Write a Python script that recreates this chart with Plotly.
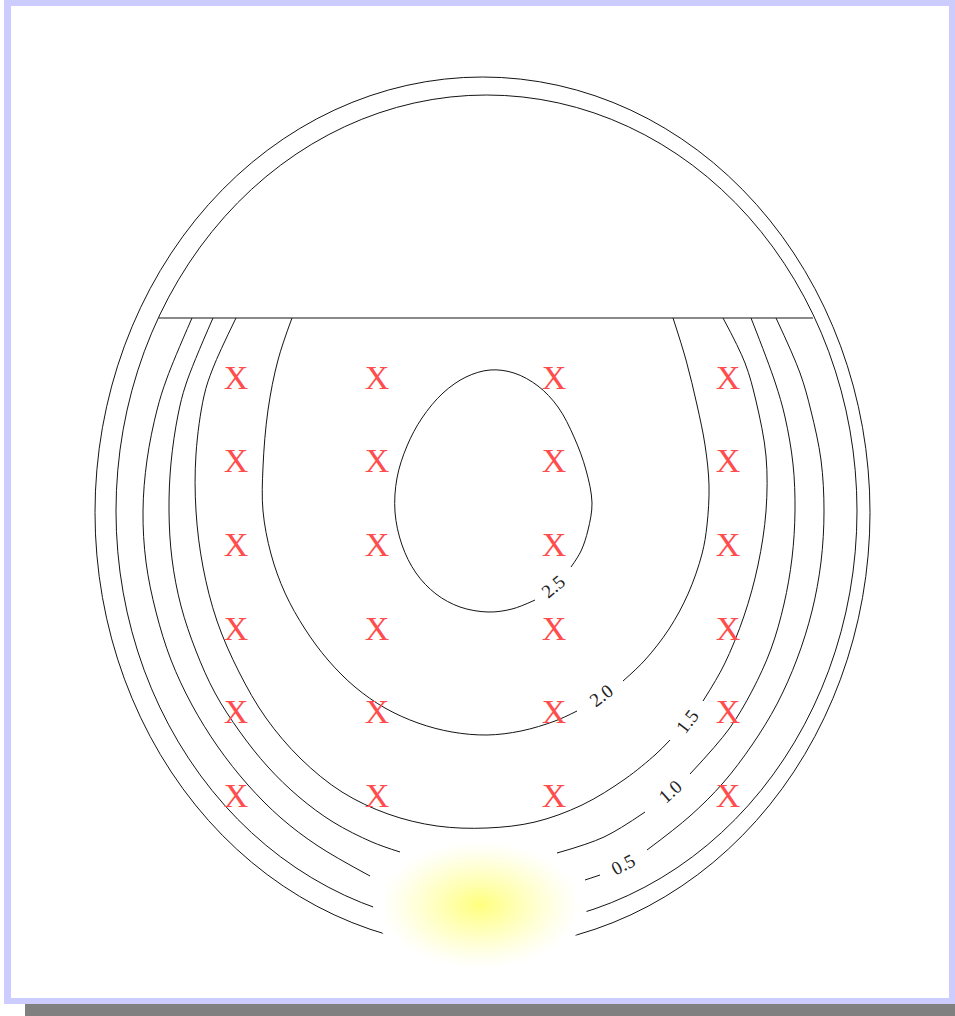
import plotly.graph_objects as go

# ---- contour levels (None = break at a label or under the glow)
c05_x = [-2.90, -3.15, -3.25, -3.35, -3.39, -3.36, -3.26, -3.11, -2.90, -2.64, -2.34, -2.01, -1.64, -1.12, None,
         1.03, 1.18, None,
         1.65, 2.08, 2.41, 2.70, 2.95, 3.15, 3.30, 3.39, 3.42, 3.39, 3.29, 3.18, 2.94]
c05_y = [1.97, 1.37, 1.05, 0.55, 0.04, -0.47, -0.97, -1.45, -1.90, -2.32, -2.70, -3.03, -3.31, -3.61, None,
         -3.65, -3.60, None,
         -3.35, -3.01, -2.68, -2.30, -1.89, -1.44, -0.96, -0.47, 0.04, 0.55, 1.04, 1.42, 1.97]

c10_x = [-2.69, -2.96, -3.04, -3.11, -3.13, -3.10, -3.01, -2.86, -2.67, -2.42, -2.14, -1.83, -1.49, -1.10, -0.82, None,
         0.75, 1.22, 1.63, None,
         2.08, 2.47, 2.70, 2.89, 3.02, 3.10, 3.13, 3.11, 3.03, 2.93, 2.69]
c10_y = [1.97, 1.31, 1.00, 0.52, 0.04, -0.44, -0.91, -1.36, -1.78, -2.17, -2.52, -2.82, -3.07, -3.27, -3.37, None,
         -3.38, -3.22, -2.97, None,
         -2.59, -2.14, -1.76, -1.34, -0.89, -0.43, 0.04, 0.51, 0.98, 1.33, 1.97]

c15_x = [-2.46, -2.69, -2.78, -2.86, -2.86, -2.79, -2.65, -2.43, -2.16, -1.81, -1.40, -0.94, -0.45, 0.05, 0.53,
         1.00, 1.43, 1.74, 1.88, None,
         2.21, 2.42, 2.62, 2.76, 2.84, 2.84, 2.74, 2.63, 2.41]
c15_y = [1.97, 1.47, 1.19, 0.61, 0.04, -0.52, -1.06, -1.57, -2.03, -2.44, -2.77, -2.99, -3.11, -3.13, -3.07,
         -2.90, -2.64, -2.39, -2.25, None,
         -1.86, -1.50, -1.01, -0.50, 0.04, 0.59, 1.14, 1.52, 1.97]

c20_x = [-1.90, -2.04, -2.14, -2.19, -2.19, -2.11, -1.97, -1.77, -1.54, -1.27, -0.97, -0.64, -0.30, 0.05, 0.39,
         0.73, 0.95, None,
         1.41, 1.63, 1.87, 2.06, 2.20, 2.25, 2.27, 2.23, 2.15, 2.04, 1.91]
c20_y = [1.97, 1.55, 1.05, 0.48, 0.04, -0.39, -0.78, -1.14, -1.45, -1.72, -1.93, -2.08, -2.17, -2.20, -2.16,
         -2.06, -1.96, None,
         -1.66, -1.45, -1.14, -0.79, -0.39, -0.10, 0.30, 0.70, 1.10, 1.55, 1.97]

c25_x = [0.53, 0.30, 0.06, -0.22, -0.46, -0.66, -0.80, -0.87, -0.85, -0.75, -0.60, -0.39, -0.16, 0.08,
         0.32, 0.56, 0.76, 0.92, 1.04, 1.10, 1.06, 0.99, 0.89]
c25_y = [-0.85, -0.94, -0.97, -0.92, -0.79, -0.58, -0.30, 0.03, 0.37, 0.69, 0.97, 1.22, 1.38, 1.45,
         1.42, 1.29, 1.08, 0.78, 0.45, 0.12, -0.15, -0.36, -0.52]

# straight cut across the domain
cut_x = [-3.23, 3.31]
cut_y = [1.97, 1.97]

# outer boundary ellipses: (x0, x1, y0, y1)
outer_box = [-3.87, 3.88, -4.33, 4.38]
inner_box = [-3.66, 3.75, -4.12, 4.20]

# contour labels
label_text = ["2.5", "2.0", "1.5", "1.0", "0.5"]
label_x = [0.71, 1.19, 2.05, 1.88, 1.41]
label_y = [-0.71, -1.80, -2.06, -2.76, -3.49]
label_angle = [-40, -37, -53, -42, -27]

# sample points
grid_x = [-2.46, -1.05, 0.72, 2.46]
grid_y = [1.35, 0.52, -0.32, -1.16, -1.99, -2.83]

W, H = 955, 1016
LINE = dict(color="rgb(20,20,20)", width=1)
SERIF = "Liberation Serif, Times New Roman, serif"

fig = go.Figure()

for xs, ys in [(c05_x, c05_y), (c10_x, c10_y), (c15_x, c15_y), (c20_x, c20_y), (c25_x, c25_y)]:
    fig.add_trace(go.Scatter(x=xs, y=ys, mode="lines", line=dict(shape="spline", smoothing=1.0, **LINE),
                             connectgaps=False, hoverinfo="skip", showlegend=False))

fig.add_trace(go.Scatter(x=cut_x, y=cut_y, mode="lines", line=LINE, hoverinfo="skip", showlegend=False))

px_, py_ = [], []
for gy in grid_y:
    for gx in grid_x:
        px_.append(gx)
        py_.append(gy)
fig.add_trace(go.Scatter(x=px_, y=py_, mode="text", text=["X"] * len(px_), textposition="middle center",
                         textfont=dict(family=SERIF, size=34, color="#ff4d4d"),
                         hoverinfo="skip", showlegend=False))

shapes = []
# drop shadow, frame, white page
shapes.append(dict(type="rect", xref="paper", yref="paper", x0=25 / W, x1=1.05, y0=-0.05, y1=1 - 12 / H,
                   fillcolor="#808080", line=dict(width=0), layer="below"))
shapes.append(dict(type="rect", xref="paper", yref="paper", x0=4 / W, x1=1.01, y0=1 - 1004 / H, y1=1.01,
                   fillcolor="#ccccff", line=dict(width=0), layer="below"))
shapes.append(dict(type="rect", xref="paper", yref="paper", x0=11 / W, x1=949 / W, y0=1 - 998 / H, y1=1 - 6 / H,
                   fillcolor="white", line=dict(width=0), layer="below"))
for b in (outer_box, inner_box):
    shapes.append(dict(type="circle", xref="x", yref="y", x0=b[0], x1=b[1], y0=b[2], y1=b[3],
                       line=LINE, fillcolor="rgba(0,0,0,0)", layer="below"))

# soft radial glow near the bottom
gcx, gcy, grx, gry = -0.02, -3.90, 1.07, 0.68
N = 50
for i in range(N, 0, -1):
    t = i / N
    k = max(0.0, 1 - t / 0.95) ** 1.2
    blue = int(round(255 - 130 * k))
    shapes.append(dict(type="circle", xref="x", yref="y",
                       x0=gcx - grx * t, x1=gcx + grx * t, y0=gcy - gry * t, y1=gcy + gry * t,
                       fillcolor=f"rgb(255,255,{blue})", line=dict(width=0), layer="above"))

annotations = [dict(x=x, y=y, text=t, textangle=a, showarrow=False, xref="x", yref="y",
                    font=dict(family=SERIF, size=19, color="#222"))
               for t, x, y, a in zip(label_text, label_x, label_y, label_angle)]

fig.update_layout(
    width=W, height=H, margin=dict(l=0, r=0, t=0, b=0),
    paper_bgcolor="white", plot_bgcolor="rgba(0,0,0,0)",
    xaxis=dict(range=[-4.82, 4.73], visible=False, fixedrange=True),
    yaxis=dict(range=[-5.01, 5.15], visible=False, fixedrange=True),
    shapes=shapes, annotations=annotations, showlegend=False,
)

fig.write_html("out.html", config={"displayModeBar": False})
